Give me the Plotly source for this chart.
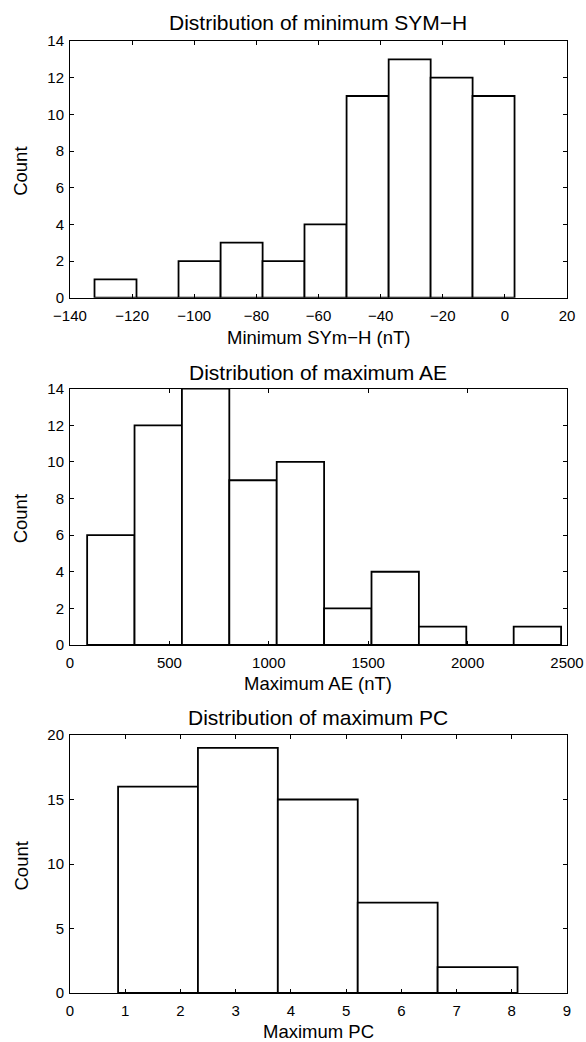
import plotly.graph_objects as go

# ---- data ----
symh_centers = [-125.35, -111.85, -98.3, -84.75, -71.25, -57.75, -44.2, -30.65, -17.15, -3.65]
symh_counts = [1, 0, 2, 3, 2, 4, 11, 13, 12, 11]
symh_binwidth = 13.52
symh_xticks = [-140, -120, -100, -80, -60, -40, -20, 0, 20]
symh_yticks = [0, 2, 4, 6, 8, 10, 12, 14]

ae_centers = [205.4, 443.8, 682.2, 920.6, 1159.0, 1397.4, 1635.8, 1874.2, 2112.6, 2351.0]
ae_counts = [6, 12, 14, 9, 10, 2, 4, 1, 0, 1]
ae_binwidth = 238.4
ae_xticks = [0, 500, 1000, 1500, 2000, 2500]
ae_yticks = [0, 2, 4, 6, 8, 10, 12, 14]

pc_centers = [1.594, 3.040, 4.487, 5.934, 7.381]
pc_counts = [16, 19, 15, 7, 2]
pc_binwidth = 1.4468
pc_xticks = [0, 1, 2, 3, 4, 5, 6, 7, 8, 9]
pc_yticks = [0, 5, 10, 15, 20]

titles = ["Distribution of minimum SYM\u2212H", "Distribution of maximum AE", "Distribution of maximum PC"]
xtitles = ["Minimum SYm\u2212H (nT)", "Maximum AE (nT)", "Maximum PC"]

W, H = 586, 1042
FONT = "Liberation Sans, Arial, Helvetica, sans-serif"

def py(px):
    return 1 - px / H

fig = go.Figure()

panels = [
    (symh_centers, symh_counts, symh_binwidth, symh_xticks, symh_yticks, [-140, 20], [0, 14], (41, 297.7)),
    (ae_centers, ae_counts, ae_binwidth, ae_xticks, ae_yticks, [0, 2500], [0, 14], (388.7, 645)),
    (pc_centers, pc_counts, pc_binwidth, pc_xticks, pc_yticks, [0, 9], [0, 20], (735, 993)),
]

xdom = [70 / W, 567 / W]
title_y = [22.7, 372.7, 717.7]
xtitle_y = [337.3, 683.3, 1031.0]

for i, (cx, cy, bw, xt, yt, xr, yr, (ytop, ybot)) in enumerate(panels):
    n = "" if i == 0 else str(i + 1)
    fig.add_trace(go.Bar(
        x=cx, y=cy, width=bw,
        marker=dict(color="white", line=dict(color="black", width=1.8)),
        xaxis="x" + n, yaxis="y" + n, showlegend=False, hoverinfo="x+y",
    ))
    axcommon = dict(
        showline=True, linecolor="black", linewidth=1, mirror="allticks",
        ticks="inside", ticklen=4, tickwidth=1, tickcolor="black",
        showgrid=False, zeroline=False, automargin=False,
        tickfont=dict(family=FONT, size=15, color="black"),
    )
    fig.update_layout({
        "xaxis" + n: dict(domain=xdom, range=xr, tickvals=xt, anchor="y" + n,
                          ticklabelstandoff=4, **axcommon),
        "yaxis" + n: dict(domain=[py(ybot), py(ytop)], range=yr, tickvals=yt, anchor="x" + n,
                          ticklabelstandoff=2, **axcommon),
    })
    fig.add_annotation(text=titles[i], x=(xdom[0] + xdom[1]) / 2, y=py(title_y[i]),
                       xref="paper", yref="paper", showarrow=False, xanchor="center", yanchor="middle",
                       font=dict(family=FONT, size=21, color="black"))
    fig.add_annotation(text=xtitles[i], x=(xdom[0] + xdom[1]) / 2, y=py(xtitle_y[i]),
                       xref="paper", yref="paper", showarrow=False, xanchor="center", yanchor="middle",
                       font=dict(family=FONT, size=18.5, color="black"))
    fig.add_annotation(text="Count", x=20.5 / W, y=py((ytop + ybot) / 2 + 2),
                       xref="paper", yref="paper", showarrow=False, xanchor="center", yanchor="middle",
                       textangle=-90, font=dict(family=FONT, size=18.5, color="black"))

fig.update_layout(
    template="none",
    width=W, height=H,
    margin=dict(l=0, r=0, t=0, b=0, pad=0, autoexpand=False),
    paper_bgcolor="white", plot_bgcolor="white",
    font=dict(family=FONT, color="black"),
    barmode="overlay",
    showlegend=False,
)

fig.write_html("out.html")
